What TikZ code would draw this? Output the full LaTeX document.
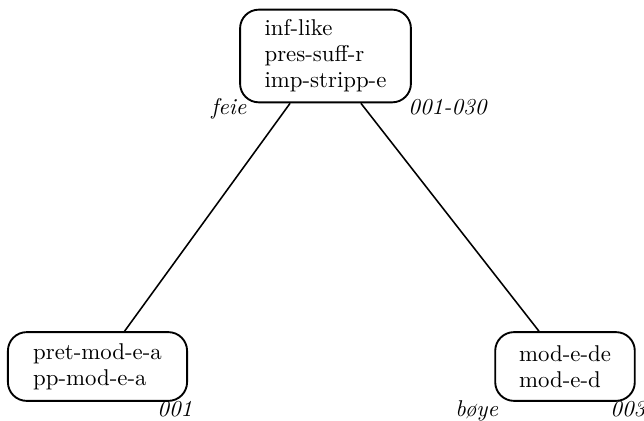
\documentclass[tikz,border=0pt]{standalone}
\usepackage{fontspec}
\begin{document}
\begin{tikzpicture}[x=0.48pt,y=-0.48pt,
  box/.style={draw,line width=0.9pt,rounded corners=9pt,align=left,inner sep=0pt,font=\fontsize{10.95}{12.4}\selectfont},
  lab/.style={inner sep=0pt,anchor=base west,font=\fontsize{10.95}{12}\selectfont\itshape},
  edge/.style={line width=0.75pt}]
\useasboundingbox (0,0) rectangle (644,421);
\node[box,minimum width=82pt,minimum height=44.5pt] (top) at (325.5,56) {inf-like\\pres-suff-r\\imp-stripp-e};
\node[box,minimum width=86pt,minimum height=33pt] (bl) at (97.5,366.5) {pret-mod-e-a\\pp-mod-e-a};
\node[box,minimum width=67pt,minimum height=33pt] (br) at (565,366.5) {mod-e-de\\mod-e-d};
\node[lab] (l1) at (211,115) {feie};
\node[lab] (l2) at (408,115) {001-030};
\node[lab] (l3) at (157,416) {001};
\node[lab] (l4) at (455,416) {bøye};
\node[lab] (l5) at (610,416) {003};
\draw[edge] ([xshift=-17pt]top.south) -- ([xshift=13pt]bl.north);
\draw[edge] ([xshift=17pt]top.south) -- ([xshift=-12.5pt]br.north);
\end{tikzpicture}
\end{document}
